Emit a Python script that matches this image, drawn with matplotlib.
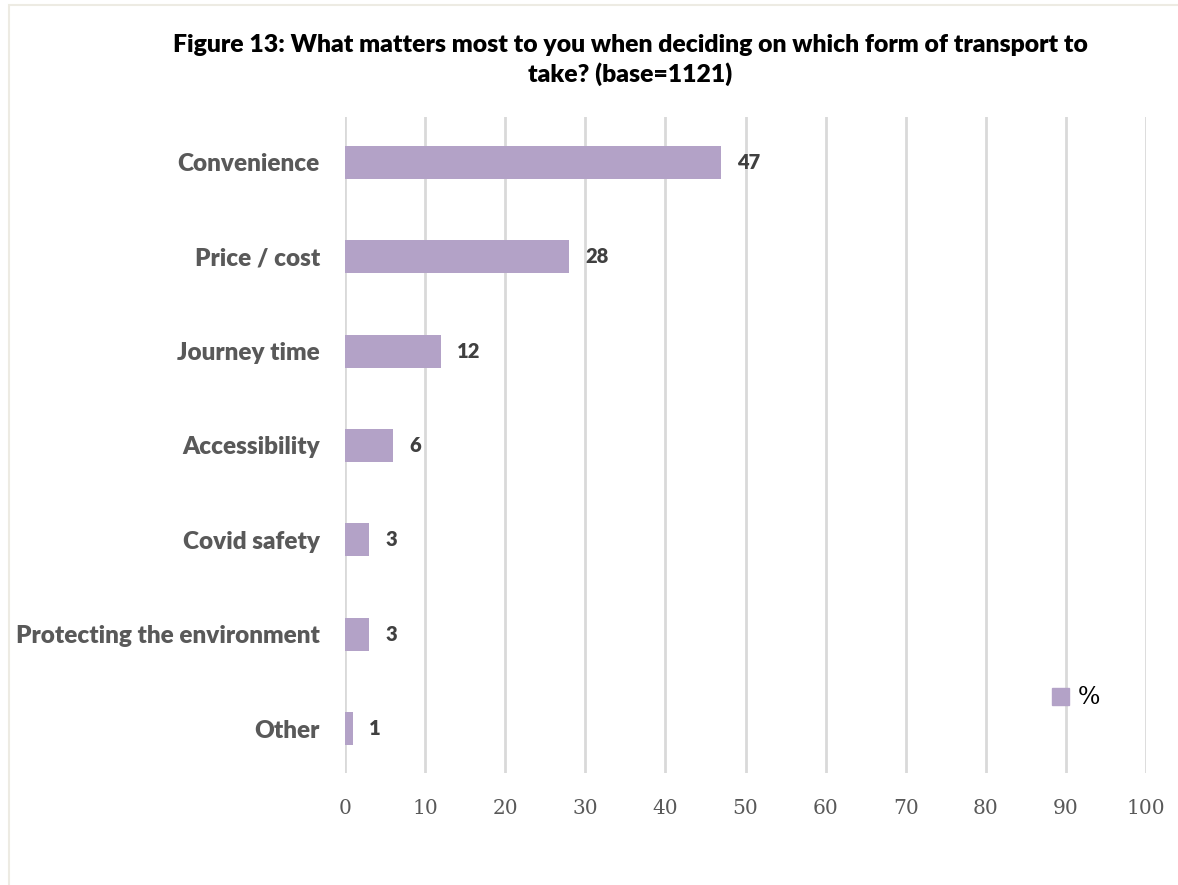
import matplotlib.pyplot as plt
from matplotlib.patches import Rectangle, Patch

# ===================== data =====================
categories = ["Convenience", "Price / cost", "Journey time", "Accessibility",
              "Covid safety", "Protecting the environment", "Other"]
values = [47, 28, 12, 6, 3, 3, 1]
xticks = [0, 10, 20, 30, 40, 50, 60, 70, 80, 90, 100]
title = "Figure 13: What matters most to you when deciding on which form of transport to\ntake? (base=1121)"

BAR = "#B3A2C7"
GREY = "#595959"

fig = plt.figure(figsize=(11.78, 8.85), dpi=100)
ax = fig.add_axes([345 / 1178, 1 - 773 / 885, (1146 - 345) / 1178, (773 - 117) / 885])

# outer frame (only left / top edges visible in the crop)
fig.patches.append(Rectangle((9 / 1178, -0.05), 1.1, 1 - 5 / 885 + 0.05,
                             transform=fig.transFigure, fill=False,
                             edgecolor="#EDEBE3", linewidth=1.5))

y = list(range(len(categories)))
ax.barh(y, values, height=0.35, color=BAR, zorder=3)
for yi, v in zip(y, values):
    ax.text(v + 2, yi, str(v), va="center", ha="left", fontsize=14.5,
            fontweight="heavy", color="#404040", family="Lato")

ax.set_xlim(0, 100)
ax.set_ylim(6.47, -0.48)
ax.set_xticks(xticks)
ax.set_xticklabels([str(t) for t in xticks], family="DejaVu Serif", fontsize=14.5, color=GREY)
ax.set_yticks(y)
ax.set_yticklabels(categories, family="Lato", fontweight="heavy", fontsize=17.5, color=GREY)
ax.tick_params(axis="both", length=0)
ax.tick_params(axis="x", pad=19)
ax.tick_params(axis="y", pad=18)
ax.grid(axis="x", color="#D9D9D9", linewidth=2, zorder=0)
for s in ax.spines.values():
    s.set_visible(False)

fig.text(630 / 1178, 1 - 60 / 885, title, ha="center", va="center", family="Lato",
         fontweight="heavy", fontsize=17.8, color="black", linespacing=1.3)

leg = ax.legend(handles=[Patch(color=BAR, label="%")], loc="center left",
                bbox_to_anchor=((1031 - 345) / (1146 - 345), (773 - 698) / (773 - 117)),
                frameon=False, handlelength=0.7, handleheight=0.7, handletextpad=0.4,
                prop={"family": "DejaVu Serif", "size": 17})

fig.savefig("out.png", dpi=100)
